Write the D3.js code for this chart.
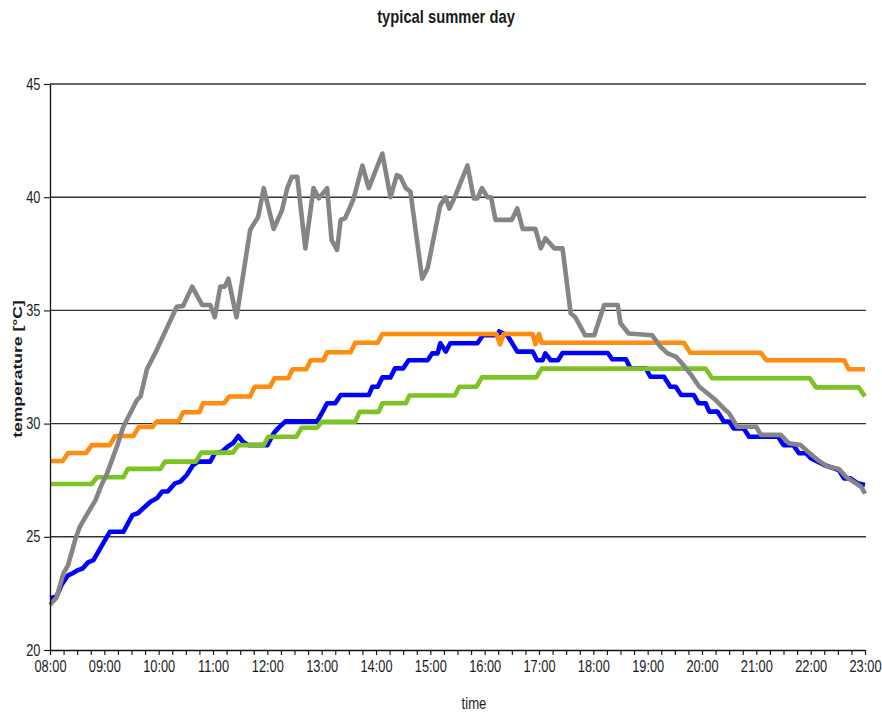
<!DOCTYPE html>
<html>
<head>
<meta charset="utf-8">
<script src="https://cdn.jsdelivr.net/npm/d3@7"></script>
<style>
  html, body { margin: 0; padding: 0; background: #ffffff; }
  svg { display: block; }
  text { font-family: "Liberation Sans", Arial, sans-serif; fill: #1a1a1a; }
</style>
</head>
<body>
<svg id="chart" width="882" height="714"></svg>
<script>
// ---------- data ----------
const chartTitle = "typical summer day";
const xTitle = "time";
const yTitle = "temperature [°C]";
const yTickValues = [20, 25, 30, 35, 40, 45];
const gridValues = [25, 30, 35, 40, 45];
const xStart = "08:00";
const xEnd = "23:00";

const blueTimes = ["08:00","08:07","08:13","08:20","08:25","08:31","08:36","08:42","08:48","09:06","09:21","09:31","09:37","09:43","09:51","09:58","10:04","10:10","10:18","10:24","10:31","10:38","10:44","10:57","11:02","11:10","11:16","11:22","11:28","11:33","11:39","12:00","12:07","12:12","12:20","12:55","13:02","13:06","13:15","13:21","13:52","13:56","14:02","14:07","14:16","14:21","14:30","14:36","14:57","15:02","15:08","15:11","15:17","15:22","15:52","15:58","16:14","16:16","16:25","16:36","16:53","16:58","17:04","17:07","17:13","17:21","17:26","18:16","18:21","18:36","18:41","18:58","19:03","19:18","19:25","19:31","19:37","19:51","19:56","20:04","20:08","20:17","20:24","20:30","20:35","20:46","20:52","21:24","21:30","21:41","21:47","21:55","22:00","22:15","22:31","22:37","22:44","22:52","23:00"];
const blueValues = [22.3,22.35,22.9,23.3,23.39,23.53,23.6,23.87,23.97,25.22,25.22,25.96,26.04,26.26,26.55,26.7,27.0,27.0,27.36,27.44,27.73,28.17,28.32,28.32,28.69,28.76,28.98,29.13,29.45,29.2,29.05,29.05,29.57,29.8,30.1,30.1,30.6,30.9,30.9,31.26,31.26,31.63,31.63,32.04,32.04,32.44,32.44,32.8,32.8,33.1,33.1,33.55,33.18,33.55,33.55,33.9,33.9,34.07,33.9,33.18,33.18,32.8,32.8,33.1,32.8,32.8,33.12,33.12,32.84,32.84,32.44,32.44,32.07,32.07,31.63,31.63,31.26,31.26,30.9,30.9,30.53,30.53,30.09,30.09,29.79,29.79,29.42,29.42,29.05,29.05,28.69,28.69,28.47,28.17,27.95,27.58,27.58,27.36,27.29];

const orangeTimes = ["08:00","08:14","08:20","08:40","08:46","09:06","09:12","09:32","09:38","09:53","09:58","10:22","10:27","10:45","10:49","11:12","11:18","11:41","11:46","12:03","12:08","12:23","12:28","12:43","12:48","13:02","13:06","13:32","13:37","14:02","14:07","16:13","16:17","16:21","16:53","16:56","17:00","17:03","19:40","19:47","21:05","21:11","22:37","22:42","23:00"];
const orangeValues = [28.35,28.35,28.7,28.7,29.05,29.05,29.45,29.45,29.85,29.85,30.1,30.1,30.5,30.5,30.9,30.9,31.2,31.2,31.63,31.63,32.0,32.0,32.4,32.4,32.8,32.8,33.15,33.15,33.57,33.57,33.96,33.96,33.5,33.96,33.96,33.5,33.96,33.57,33.57,33.13,33.13,32.8,32.8,32.4,32.4];

const greenTimes = ["08:00","08:46","08:52","09:21","09:26","10:02","10:07","10:41","10:47","11:22","11:28","11:56","12:01","12:32","12:38","12:55","13:00","13:37","13:42","14:03","14:07","14:33","14:37","15:27","15:32","15:51","15:57","16:57","17:03","20:04","20:11","21:59","22:06","22:53","23:00"];
const greenValues = [27.33,27.33,27.63,27.63,28.0,28.0,28.32,28.32,28.72,28.72,29.05,29.05,29.42,29.42,29.82,29.82,30.08,30.08,30.52,30.52,30.9,30.9,31.24,31.24,31.63,31.63,32.04,32.04,32.43,32.43,32.0,32.0,31.6,31.6,31.2];

const grayTimes = ["08:00","08:07","08:15","08:20","08:28","08:33","08:44","08:50","08:57","09:03","09:14","09:21","09:36","09:40","09:47","09:56","10:20","10:27","10:37","10:48","10:57","11:02","11:08","11:13","11:17","11:26","11:41","11:50","11:56","12:07","12:16","12:22","12:27","12:33","12:42","12:51","12:57","13:06","13:11","13:17","13:21","13:26","13:35","13:45","13:52","14:07","14:16","14:23","14:27","14:33","14:38","14:51","14:57","15:11","15:17","15:21","15:28","15:41","15:48","15:52","15:57","16:03","16:07","16:12","16:30","16:36","16:42","16:56","17:02","17:07","17:17","17:26","17:35","17:40","17:51","18:01","18:12","18:27","18:30","18:39","19:05","19:14","19:22","19:31","19:38","19:48","19:57","20:06","20:15","20:24","20:30","20:39","21:00","21:05","21:27","21:36","21:49","21:57","22:08","22:19","22:31","22:39","22:50","22:56","23:00"];
const grayValues = [22.0,22.3,23.4,23.75,24.9,25.45,26.2,26.6,27.3,27.8,29.0,29.86,31.04,31.2,32.4,33.1,35.16,35.2,36.05,35.24,35.24,34.7,36.05,36.05,36.4,34.7,38.55,39.14,40.4,38.6,39.4,40.4,40.9,40.9,37.74,40.4,39.95,40.4,38.1,37.67,39.0,39.08,39.9,41.4,40.4,41.93,40.0,40.98,40.9,40.4,40.25,36.4,36.87,39.65,40.0,39.5,40.1,41.4,39.95,39.95,40.4,40.0,40.0,39.0,39.0,39.5,38.6,38.6,37.74,38.18,37.74,37.74,34.87,34.7,33.9,33.9,35.24,35.24,34.43,33.98,33.9,33.4,33.1,32.96,32.66,32.15,31.63,31.34,31.04,30.67,30.45,29.86,29.86,29.5,29.5,29.13,29.05,28.76,28.39,28.1,28.0,27.65,27.36,27.2,26.9];

const seriesColors = { blue: "#0000ff", orange: "#ff8c0f", green: "#7cc423", gray: "#858585" };

// ---------- chart ----------
const parseTime = d3.timeParse("%H:%M");
const fmtHour = d3.timeFormat("%H:%M");
const svg = d3.select("#chart");

const x = d3.scaleTime().domain([parseTime(xStart), parseTime(xEnd)]).range([50, 865]);
const y = d3.scaleLinear().domain([20, 45]).range([650, 84]);

const NARROW = 0.8;

// gridlines
svg.append("g").selectAll("line").data(gridValues).join("line")
  .attr("x1", x.range()[0]).attr("x2", x.range()[1] + 1)
  .attr("y1", d => y(d)).attr("y2", d => y(d))
  .attr("stroke", "#333").attr("stroke-width", 1.4);

// series
const line = d3.line().x(d => x(d.t)).y(d => y(d.v));
function build(times, values) { return times.map((t, i) => ({ t: parseTime(t), v: values[i] })); }
const series = [
  { key: "blue", data: build(blueTimes, blueValues) },
  { key: "orange", data: build(orangeTimes, orangeValues) },
  { key: "green", data: build(greenTimes, greenValues) },
  { key: "gray", data: build(grayTimes, grayValues) }
];
svg.append("g").selectAll("path").data(series).join("path")
  .attr("d", d => line(d.data))
  .attr("fill", "none")
  .attr("stroke", d => seriesColors[d.key])
  .attr("stroke-width", 4.6)
  .attr("stroke-linejoin", "round")
  .attr("stroke-linecap", "butt");

// x axis
const xAxis = d3.axisBottom(x)
  .ticks(d3.timeMinute.every(15))
  .tickSize(5).tickSizeOuter(0).tickPadding(6)
  .tickFormat(d => d.getMinutes() === 0 ? fmtHour(d) : "");
const gx = svg.append("g").attr("transform", `translate(0,${y(20)})`).call(xAxis);
gx.select(".domain").attr("stroke", "#111").attr("stroke-width", 1.3);
gx.selectAll(".tick line").attr("stroke", "#111").attr("stroke-width", 1.1);
gx.selectAll(".tick text").attr("font-size", 16).attr("fill", "#1a1a1a")
  .attr("transform", `scale(${NARROW},1)`);

// y axis
const yAxis = d3.axisLeft(y).tickValues(yTickValues).tickSize(6).tickSizeOuter(0).tickPadding(6);
const gy = svg.append("g").attr("transform", `translate(${x.range()[0]},0)`).call(yAxis);
gy.select(".domain").attr("stroke", "#111").attr("stroke-width", 1.3);
gy.selectAll(".tick line").attr("stroke", "#111").attr("stroke-width", 1.1);
gy.selectAll(".tick text").attr("font-size", 16).attr("fill", "#1a1a1a")
  .attr("transform", `scale(${NARROW},1)`);

// titles
svg.append("text").attr("transform", "translate(446,23) scale(0.82,1)")
  .attr("text-anchor", "middle").attr("font-size", 18).attr("font-weight", "bold")
  .text(chartTitle);
svg.append("text").attr("transform", "translate(474,709) scale(0.82,1)")
  .attr("text-anchor", "middle").attr("font-size", 16)
  .text(xTitle);
svg.append("text").attr("transform", "translate(22,369) rotate(-90) scale(1.35,1)")
  .attr("text-anchor", "middle").attr("font-size", 13).attr("font-weight", "bold")
  .text(yTitle);
</script>
</body>
</html>
